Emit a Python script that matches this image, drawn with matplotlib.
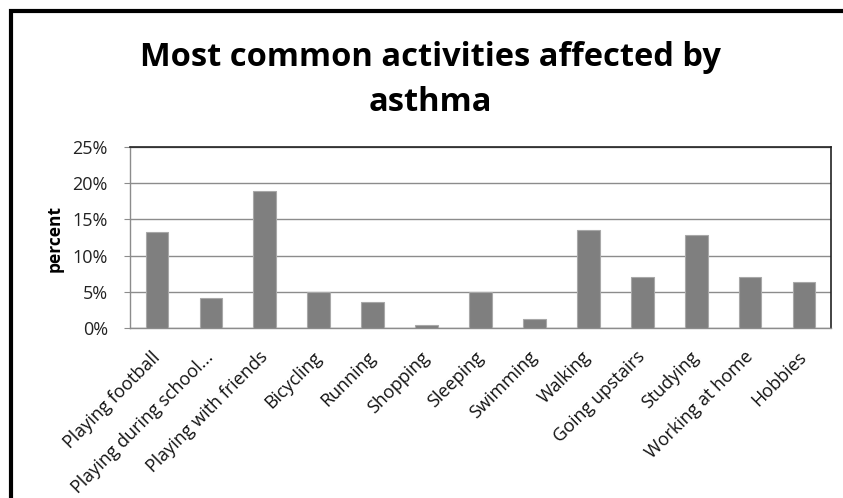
import matplotlib
matplotlib.use("Agg")
import matplotlib.pyplot as plt
from matplotlib.patches import Rectangle
from matplotlib.ticker import FuncFormatter

categories = ["Playing football", "Playing during school...", "Playing with friends",
              "Bicycling", "Running", "Shopping", "Sleeping", "Swimming", "Walking",
              "Going upstairs", "Studying", "Working at home", "Hobbies"]
values = [13.2, 4.2, 18.9, 5.0, 3.6, 0.4, 5.0, 1.25, 13.5, 7.1, 12.9, 7.1, 6.4]
yticks = [0, 5, 10, 15, 20, 25]

plt.rcParams['font.family'] = ['Open Sans', 'DejaVu Sans']

fig = plt.figure(figsize=(8.43, 4.98), dpi=100)
W, H = 843, 498
ax = fig.add_axes([130 / W, 1 - 328 / H, (831 - 130) / W, (328 - 147) / H])

x = list(range(len(categories)))
ax.bar(x, values, width=0.42, color='#7f7f7f', edgecolor='#a8a8a8', linewidth=0.8, zorder=3)
ax.set_xlim(-0.5, len(categories) - 0.5)
ax.set_ylim(0, 25)
ax.set_yticks(yticks)
ax.yaxis.set_major_formatter(FuncFormatter(lambda v, p: f"{int(v)}%"))
ax.grid(axis='y', color='#8c8c8c', linewidth=1.0, zorder=0)
ax.set_axisbelow(True)

ax.set_xticks(x)
ax.set_xticklabels(categories, rotation=45, ha='right', va='center',
                   rotation_mode='anchor', fontsize=13, color='#111111')
ax.tick_params(axis='x', length=0, pad=19)
ax.tick_params(axis='y', length=4, color='#8c8c8c', labelsize=13, pad=12, labelcolor='#222222')

for s in ['left', 'bottom']:
    ax.spines[s].set_color('#8c8c8c')
    ax.spines[s].set_linewidth(1.0)
for s in ['top', 'right']:
    ax.spines[s].set_color('#222222')
    ax.spines[s].set_linewidth(1.2)

ax.set_ylabel('percent', fontsize=12.5, fontweight='bold')
ax.yaxis.set_label_coords(64 / W, 1 - 239 / H, transform=fig.transFigure)

fig.text(430 / W, 1 - 80 / H, "Most common activities affected by\nasthma", ha='center', va='center',
         fontsize=23.5, fontweight='bold', linespacing=1.5)

fig.patches.append(Rectangle((11 / W, -0.1), 1.2, 1 - 11 / H + 0.1, transform=fig.transFigure,
                             fill=False, edgecolor='black', linewidth=3, zorder=10))

fig.savefig('out.png', dpi=100)
